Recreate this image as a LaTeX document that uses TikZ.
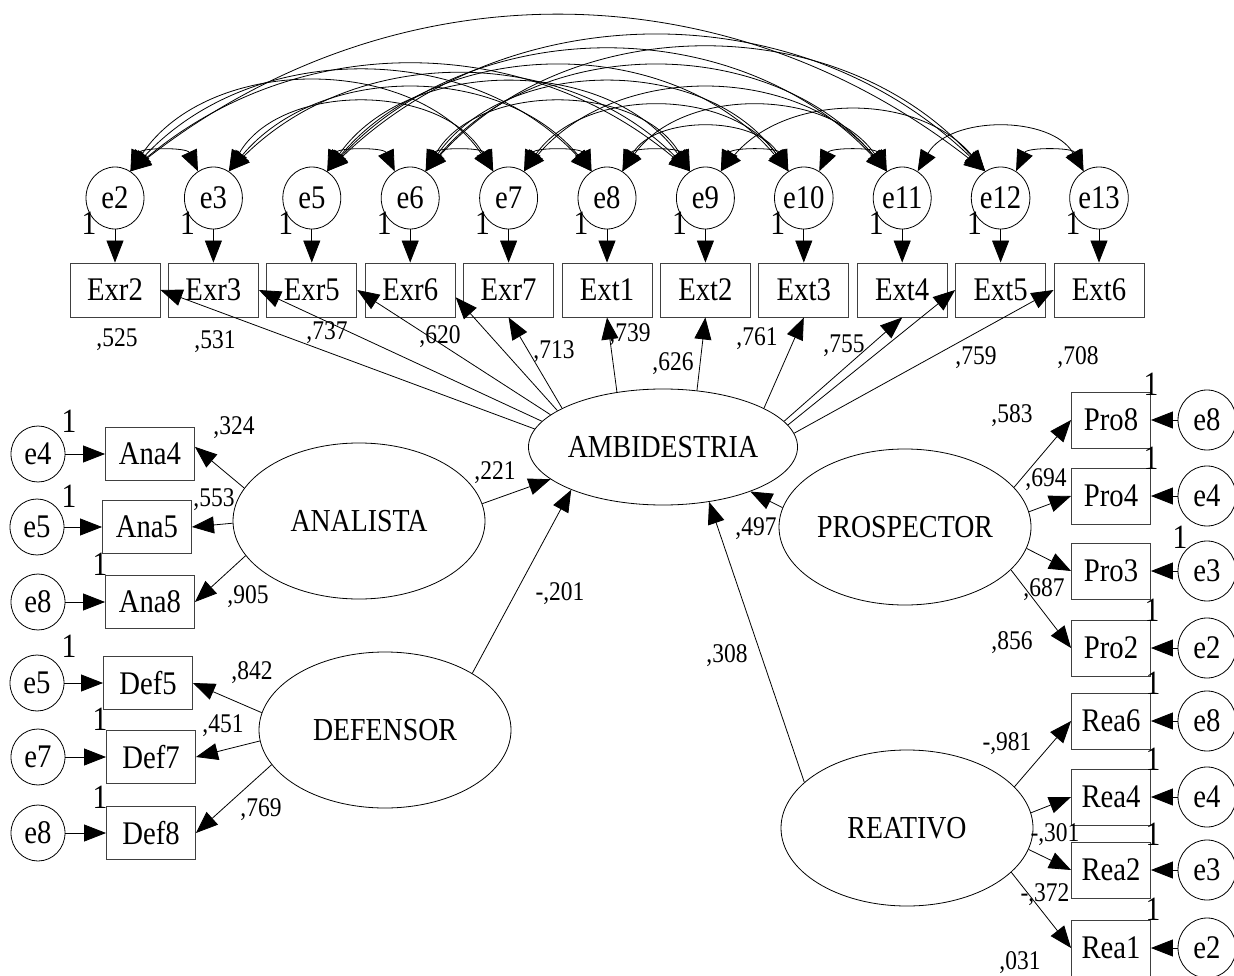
\documentclass[tikz,border=0pt]{standalone}
\usepackage{fontspec}
\setmainfont{Liberation Serif}[FakeStretch=0.87]
\usetikzlibrary{arrows.meta,shapes.geometric}
\tikzset{
  lw/.style={line width=0.8pt},
  tip/.style={lw,-{Triangle[length=22pt,width=17pt]}},
  dbl/.style={lw,{Triangle[length=21pt,width=17pt]}-{Triangle[length=21pt,width=17pt]}},
  obs/.style={draw=black!75,line width=0.9pt,rectangle,inner sep=0pt,minimum width=90pt,minimum height=54pt,font=\fontsize{33}{33}\selectfont},
  obsl/.style={obs,minimum width=89pt,minimum height=53pt},
  obsr/.style={obs,minimum width=79pt,minimum height=56pt},
  err/.style={draw,ellipse,lw,inner sep=0pt,minimum width=58pt,minimum height=62pt,font=\fontsize{33}{33}\selectfont},
  errl/.style={err,minimum width=54pt,minimum height=56pt},
  errr/.style={err,minimum width=58pt,minimum height=60pt},
  lat/.style={draw,ellipse,lw,inner sep=0pt,minimum width=252pt,minimum height=156pt,font=\fontsize{32}{32}\selectfont},
  num/.style={inner sep=0pt,font=\fontsize{27}{27}\selectfont},
  one/.style={inner sep=0pt,font=\fontsize{34}{34}\selectfont},
}
\newcommand\cov[3]{%
  \pgfmathsetmacro\cin{180-#3}%
  \draw[dbl] (t#1.60) to[out=#3,in=\cin] (t#2.120);}
\begin{document}
\begin{tikzpicture}[x=1pt,y=-1pt]
\useasboundingbox (0,0) rectangle (1234,976);
% top row
\foreach \i/\e/\b in {0/e2/Exr2,1/e3/Exr3,2/e5/Exr5,3/e6/Exr6,4/e7/Exr7,5/e8/Ext1,6/e9/Ext2,7/e10/Ext3,8/e11/Ext4,9/e12/Ext5,10/e13/Ext6}{
  \node[err] (t\e) at ({115+98.4*\i},198) {\e};
  \node[obs] (b\b) at ({115+98.4*\i},290) {\b};
  \node[one] (o\e) at ({89+98.4*\i},223) {1};
  \draw[tip] (t\e) -- (b\b);
}
% covariances
\cov{e2}{e3}{65}
\cov{e2}{e7}{56}
\cov{e2}{e8}{47}
\cov{e2}{e9}{40}
\cov{e2}{e12}{38}
\cov{e3}{e7}{60}
\cov{e3}{e8}{50}
\cov{e3}{e9}{45}
\cov{e5}{e6}{65}
\cov{e5}{e9}{55}
\cov{e5}{e10}{50}
\cov{e5}{e11}{47}
\cov{e5}{e12}{44}
\cov{e6}{e7}{65}
\cov{e6}{e9}{60}
\cov{e6}{e10}{55}
\cov{e6}{e11}{50}
\cov{e6}{e12}{48}
\cov{e7}{e8}{65}
\cov{e7}{e10}{55}
\cov{e7}{e11}{50}
\cov{e8}{e9}{65}
\cov{e8}{e10}{60}
\cov{e8}{e11}{55}
\cov{e9}{e10}{65}
\cov{e9}{e12}{50}
\cov{e10}{e11}{65}
\cov{e11}{e13}{60}
\cov{e12}{e13}{65}
% latent variables
\node[lat,minimum width=242pt,minimum height=116pt] (amb) at (663,447) {AMBIDESTRIA};
\node[lat] (ana) at (359,521) {ANALISTA};
\node[lat] (def) at (385,730) {DEFENSOR};
\node[lat] (pro) at (905,527) {PROSPECTOR};
\node[lat] (rea) at (907,828) {REATIVO};
% AMB loadings
\foreach \b/\a/\anc in {Exr2/172/east,Exr3/168/east,Exr5/164/east,Exr6/161/-9,Exr7/159/south,Ext1/130/south,Ext2/59/south,Ext3/21/south,Ext4/12/south,Ext5/10/west,Ext6/6/west}{
  \draw[tip] (amb.\a) -- (b\b.\anc);
}
% left side
\node[errl] (le4) at (38,454) {e4};   \node[obsl] (ana4) at (150,454) {Ana4};
\node[errl] (le5) at (37,527) {e5};   \node[obsl] (ana5) at (147,527) {Ana5};
\node[errl] (le8) at (38,602) {e8};   \node[obsl] (ana8) at (150,602) {Ana8};
\node[errl] (le5b) at (37,683) {e5};  \node[obsl] (def5) at (148,683) {Def5};
\node[errl] (le7) at (38,757) {e7};   \node[obsl] (def7) at (151,757) {Def7};
\node[errl] (le8b) at (38,833) {e8};  \node[obsl] (def8) at (151,833) {Def8};
\foreach \a/\b in {le4/ana4,le5/ana5,le8/ana8,le5b/def5,le7/def7,le8b/def8}{\draw[tip] (\a) -- (\b);}
\node[one] (l1a) at (69,421) {1};
\node[one] (l1b) at (69,496) {1};
\node[one] (l1c) at (100,564) {1};
\node[one] (l1d) at (69,646) {1};
\node[one] (l1e) at (100,719) {1};
\node[one] (l1f) at (100,797) {1};
\draw[tip] (ana.164) -- (ana4.9);
\draw[tip] (ana.181) -- (ana5.east);
\draw[tip] (ana.197) -- (ana8.east);
\draw[tip] (ana.8) -- (amb.196);
\draw[tip] (def.172) -- (def5.east);
\draw[tip] (def.185) -- (def7.east);
\draw[tip] (def.197) -- (def8.east);
\draw[tip] (def.33) -- (amb.205);
% right side
\foreach \n/\e/\b/\t/\y in {r1/e8/pro8/Pro8/420,r2/e4/pro4/Pro4/496,r3/e3/pro3/Pro3/571,r4/e2/pro2/Pro2/648,r5/e8/rea6/Rea6/721,r6/e4/rea4/Rea4/797,r7/e3/rea2/Rea2/870,r8/e2/rea1/Rea1/948}{
  \node[errr] (\n) at (1207,\y) {\e};
  \node[obsr] (\b) at (1111,\y) {\t};
  \draw[tip] (\n) -- (\b);
}
\node[one] (r1a) at (1151,384) {1};
\node[one] (r1b) at (1151,458) {1};
\node[one] (r1c) at (1180,537) {1};
\node[one] (r1d) at (1152,610) {1};
\node[one] (r1e) at (1153,683) {1};
\node[one] (r1f) at (1153,759) {1};
\node[one] (r1g) at (1153,834) {1};
\node[one] (r1h) at (1153,909) {1};
\draw[tip] (pro.171) -- (amb.333);
\draw[tip] (pro.20) -- (pro8.west);
\draw[tip] (pro.7) -- (pro4.west);
\draw[tip] (pro.-10) -- (pro3.west);
\draw[tip] (pro.-22) -- (pro2.west);
\draw[tip] (rea.156) -- (amb.310);
\draw[tip] (rea.21) -- (rea6.west);
\draw[tip] (rea.7) -- (rea4.west);
\draw[tip] (rea.-10) -- (rea2.west);
\draw[tip] (rea.-23) -- (rea1.west);
% numbers
\foreach \n/\x/\y/\t in {n1/117/340/{,525},n2/215/342/{,531},n3/327/333/{,737},n4/440/337/{,620},n5/554/352/{,713},n6/630/335/{,739},n7/673/364/{,626},n8/757/339/{,761},n9/844/346/{,755},n10/976/358/{,759},n11/1078/358/{,708},
  n12/234/428/{,324},n13/214/500/{,553},n14/248/597/{,905},n15/495/473/{,221},n16/560/594/{-,201},n17/252/673/{,842},n18/223/726/{,451},n19/261/810/{,769},
  n20/756/529/{,497},n21/727/656/{,308},n22/1012/416/{,583},n23/1046/480/{,694},n24/1044/590/{,687},n25/1012/643/{,856},n26/1007/744/{-,981},n27/1055/835/{-,301},n28/1045/895/{-,372},n29/1020/963/{,031}}{
  \node[num] (\n) at (\x,\y) {\t};
}
\end{tikzpicture}
\end{document}
